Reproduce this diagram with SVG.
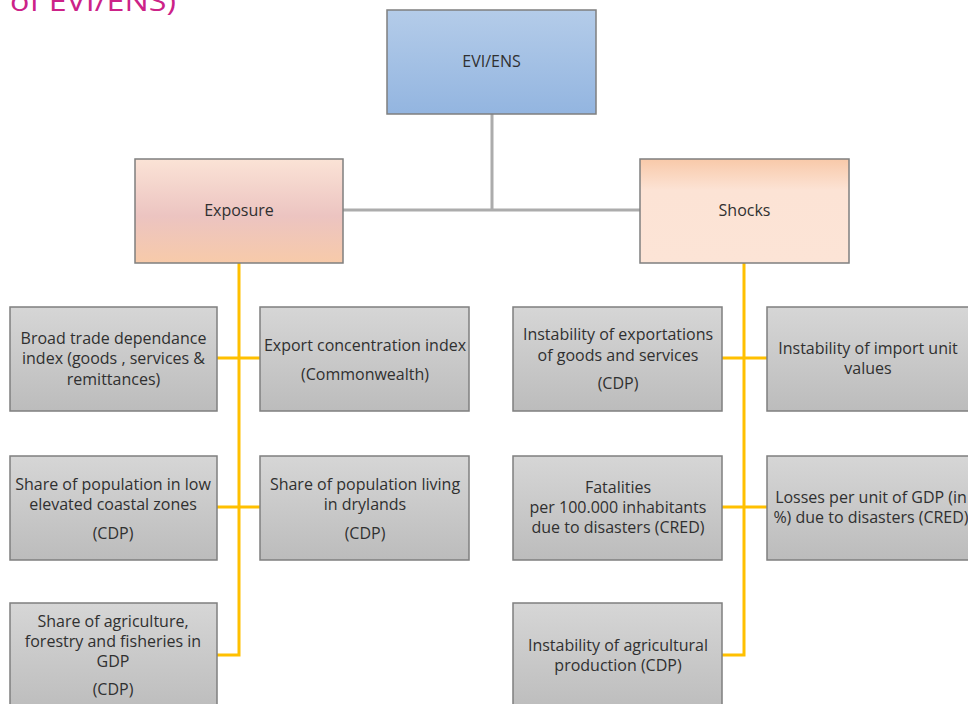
<svg xmlns="http://www.w3.org/2000/svg" width="968" height="704" viewBox="0 0 968 704">
  <defs>
    <linearGradient id="gBlue" x1="0" y1="0" x2="0" y2="1">
      <stop offset="0" stop-color="#b4cce9"/>
      <stop offset="1" stop-color="#93b5e0"/>
    </linearGradient>
    <linearGradient id="gExp" x1="0" y1="0" x2="0" y2="1">
      <stop offset="0" stop-color="#fbe3d6"/>
      <stop offset="0.55" stop-color="#ecc4c1"/>
      <stop offset="1" stop-color="#f7caa9"/>
    </linearGradient>
    <linearGradient id="gShk" x1="0" y1="0" x2="0" y2="1">
      <stop offset="0" stop-color="#f8c9a9"/>
      <stop offset="0.3" stop-color="#fce3d5"/>
      <stop offset="1" stop-color="#fce4d6"/>
    </linearGradient>
    <linearGradient id="gGray" x1="0" y1="0" x2="0" y2="1">
      <stop offset="0" stop-color="#d6d6d6"/>
      <stop offset="1" stop-color="#bcbcbc"/>
    </linearGradient>
  </defs>
  <style>
    .box { stroke: #7f7f7f; stroke-width: 1.5; }
    .gray { fill: url(#gGray); }
    text { font-family: "Open Sans", "Liberation Sans", sans-serif; font-size: 16px; fill: #303030; text-anchor: middle; }
    .head { font-size: 16px; }
    .title { font-size: 27px; fill: #cc2288; text-anchor: start; }
    .tree { fill: none; stroke: #acacac; stroke-width: 3; }
    .link { fill: none; stroke: #ffc000; stroke-width: 3; }
  </style>

  <!-- heading, running off the top edge -->
  <text class="title" x="10" y="11" textLength="166" lengthAdjust="spacingAndGlyphs">of EVI/ENS)</text>

  <!-- connectors -->
  <g id="connectors">
    <path class="tree" d="M492 114 V210 M343 210 H640"/>
    <path class="link" d="M239 263 V655 H217 M217 358 H261 M217 507 H261"/>
    <path class="link" d="M744 263 V655 H722 M722 358 H767 M722 507 H767"/>
  </g>

  <g id="evi">
    <rect class="box" x="387" y="10" width="209" height="104" fill="url(#gBlue)"/>
    <text class="head" x="491.5" y="67">EVI/ENS</text>
  </g>

  <g id="exposure">
    <rect class="box" x="135" y="159" width="208" height="104" fill="url(#gExp)"/>
    <text class="head" x="239" y="216">Exposure</text>
  </g>

  <g id="shocks">
    <rect class="box" x="640" y="159" width="209" height="104" fill="url(#gShk)"/>
    <text class="head" x="744.5" y="216">Shocks</text>
  </g>

  <g id="broad-trade">
    <rect class="box gray" x="10" y="307" width="207" height="104"/>
    <text x="113.5" y="344">Broad trade dependance</text>
    <text x="113.5" y="364">index (goods , services &amp;</text>
    <text x="113.5" y="385">remittances)</text>
  </g>

  <g id="export-concentration">
    <rect class="box gray" x="260" y="307" width="209" height="104"/>
    <text x="365" y="351">Export concentration index</text>
    <text x="365" y="380">(Commonwealth)</text>
  </g>

  <g id="coastal-zones">
    <rect class="box gray" x="10" y="456" width="207" height="104"/>
    <text x="113" y="490">Share of population in low</text>
    <text x="113" y="510">elevated coastal zones</text>
    <text x="113" y="539">(CDP)</text>
  </g>

  <g id="drylands">
    <rect class="box gray" x="260" y="456" width="209" height="104"/>
    <text x="365" y="490">Share of population living</text>
    <text x="365" y="510">in drylands</text>
    <text x="365" y="539">(CDP)</text>
  </g>

  <g id="agriculture-share">
    <rect class="box gray" x="10" y="603" width="207" height="110"/>
    <text x="113" y="627">Share of agriculture,</text>
    <text x="113" y="647">forestry and fisheries in</text>
    <text x="113" y="667">GDP</text>
    <text x="113" y="695">(CDP)</text>
  </g>

  <g id="export-instability">
    <rect class="box gray" x="513" y="307" width="209" height="104"/>
    <text x="618" y="340">Instability of exportations</text>
    <text x="618" y="361">of goods and services</text>
    <text x="618" y="389">(CDP)</text>
  </g>

  <g id="import-unit-values">
    <rect class="box gray" x="767" y="307" width="209" height="104"/>
    <text x="868" y="354">Instability of import unit</text>
    <text x="868" y="374">values</text>
  </g>

  <g id="fatalities">
    <rect class="box gray" x="513" y="456" width="209" height="104"/>
    <text x="618" y="493">Fatalities</text>
    <text x="618" y="513">per 100.000 inhabitants</text>
    <text x="618" y="533">due to disasters (CRED)</text>
  </g>

  <g id="gdp-losses">
    <rect class="box gray" x="767" y="456" width="209" height="104"/>
    <text x="871" y="503">Losses per unit of GDP (in</text>
    <text x="871" y="523">%) due to disasters (CRED)</text>
  </g>

  <g id="agricultural-instability">
    <rect class="box gray" x="513" y="603" width="209" height="110"/>
    <text x="618" y="651">Instability of agricultural</text>
    <text x="618" y="671">production (CDP)</text>
  </g>
</svg>
